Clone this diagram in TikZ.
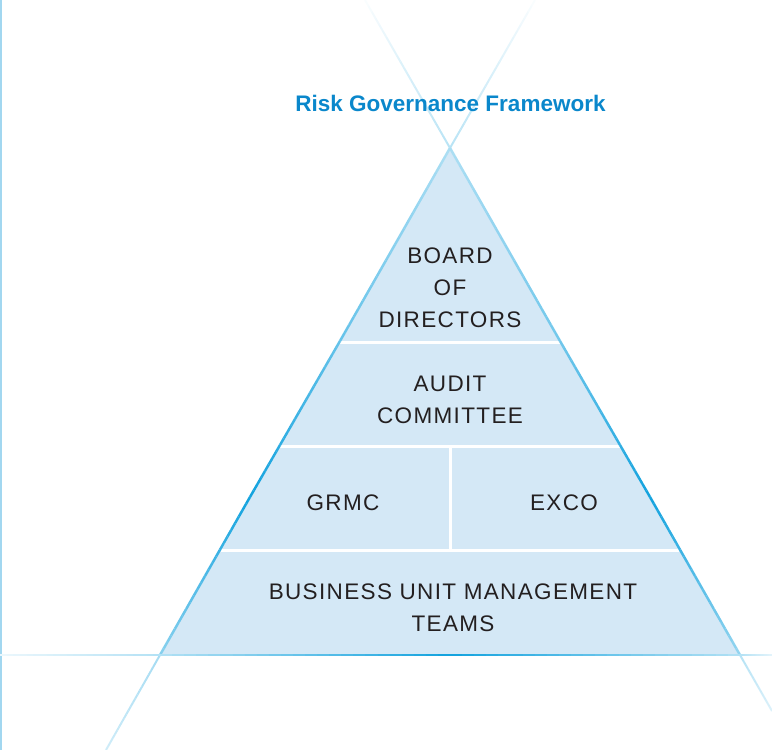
\documentclass[tikz,border=0pt]{standalone}
\usepackage{fontspec}
\setmainfont{Liberation Sans}
\definecolor{edgeblue}{HTML}{12A2DE}
\definecolor{fillblue}{HTML}{D4E8F6}
\definecolor{titleblue}{HTML}{0A87CB}
\definecolor{borderblue}{HTML}{A2D7F0}
\definecolor{inktext}{HTML}{231F20}
\newcommand\fadeseg[7]{% x1 y1 i1 x2 y2 i2 width
  \foreach \k in {0,...,23}{%
    \pgfmathsetmacro\ta{\k/24}%
    \pgfmathsetmacro\tb{(\k+1)/24}%
    \pgfmathsetmacro\ii{#3+(#6-#3)*(\k+0.5)/24}%
    \draw[line width=#7, line cap=butt, color=edgeblue!\ii!white]
      ({#1+(#4-#1)*\ta},{#2+(#5-#2)*\ta}) -- ({#1+(#4-#1)*\tb},{#2+(#5-#2)*\tb});
  }}
\tikzset{
  lbl/.style={text=inktext, align=center, font=\fontsize{22.5}{32}\selectfont\addfontfeature{LetterSpace=6}},
  sep/.style={white, line width=3pt}
}
\begin{document}
\begin{tikzpicture}[x=1pt,y=-1pt]
\useasboundingbox (0,0) rectangle (772,750);
% left border
\draw[borderblue, line width=2pt] (1,0) -- (1,750);
% triangle fill
\fill[fillblue] (450,148) -- (160,655) -- (740,655) -- cycle;
% separators
\draw[sep] (339.6,342) -- (560.4,342);
\draw[sep] (280.3,446) -- (619.7,446);
\draw[sep] (220.6,550) -- (679.4,550);
\draw[sep] (450,446) -- (450,550);
% left side line (extended)
\fadeseg{535}{0}{2}{450}{148}{30}{2pt}
\fadeseg{450}{148}{35}{340}{341}{65}{2.5pt}
\fadeseg{340}{341}{65}{250}{497}{100}{2.5pt}
\fadeseg{250}{497}{100}{160}{655}{50}{2.5pt}
\fadeseg{160}{655}{38}{106}{750}{20}{2pt}
% right side line (extended)
\fadeseg{365}{0}{2}{450}{148}{30}{2pt}
\fadeseg{450}{148}{35}{560}{341}{60}{2.5pt}
\fadeseg{560}{341}{60}{650}{497}{100}{2.5pt}
\fadeseg{650}{497}{100}{740}{655}{45}{2.5pt}
\fadeseg{740}{655}{32}{772}{711}{15}{2pt}
% base line
\fadeseg{0}{655}{8}{160}{655}{32}{2.5pt}
\fadeseg{160}{655}{32}{450}{655}{100}{2.5pt}
\fadeseg{450}{655}{100}{740}{655}{32}{2.5pt}
\fadeseg{740}{655}{32}{772}{655}{12}{2.5pt}
% texts
\node[text=titleblue, font=\fontsize{22.5}{26}\selectfont\bfseries] (title) at (450.5,103) {Risk Governance Framework};
\node[lbl] (board) at (450,288) {BOARD\\OF\\DIRECTORS};
\node[lbl] (audit) at (450,400) {AUDIT\\COMMITTEE};
\node[lbl] (grmc) at (343,503) {GRMC};
\node[lbl] (exco) at (564,503) {EXCO};
\node[lbl] (bumt) at (453,608) {BUSINESS UNIT MANAGEMENT\\TEAMS};
\end{tikzpicture}
\end{document}
